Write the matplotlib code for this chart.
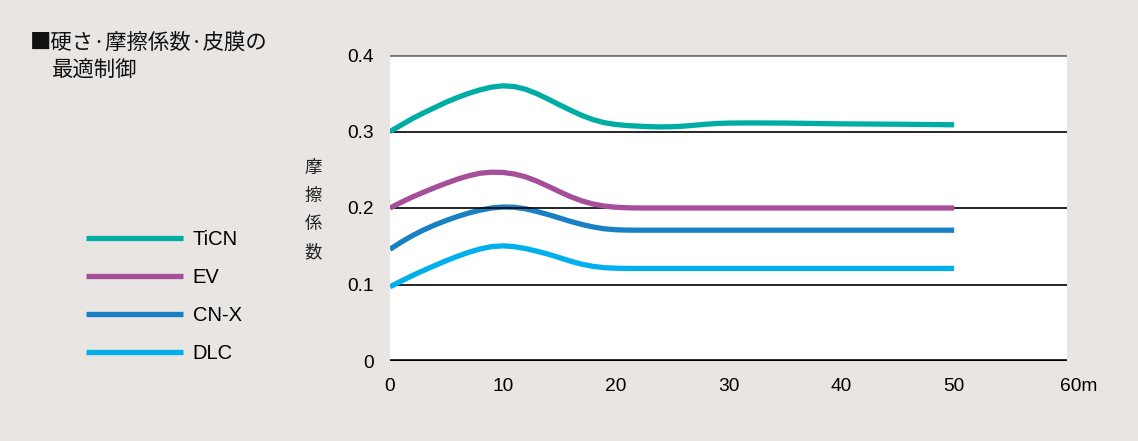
import matplotlib
matplotlib.use("Agg")
import matplotlib.pyplot as plt
from matplotlib.transforms import ScaledTranslation

# ---- data ----
x_m = [0, 1, 2, 3, 4, 5, 6, 7, 8, 9, 10, 11, 12, 13, 14, 15, 16, 17, 18, 19,
       20, 21, 22, 23, 24, 25, 26, 27, 28, 29, 30, 32, 35, 40, 45, 50]
ticn = [0.300, 0.3085, 0.317, 0.3245, 0.3315, 0.3385, 0.3445, 0.350, 0.3545,
        0.358, 0.3597, 0.3588, 0.3553, 0.3495, 0.3425, 0.335, 0.3278, 0.321,
        0.3155, 0.3115, 0.3092, 0.3078, 0.307, 0.3063, 0.306, 0.3062, 0.307,
        0.3082, 0.3095, 0.3105, 0.311, 0.3112, 0.311, 0.310, 0.3095, 0.3088]
ev = [0.200, 0.2075, 0.2145, 0.2208, 0.2268, 0.2325, 0.2378, 0.2422, 0.2455,
      0.2468, 0.2465, 0.2445, 0.2408, 0.2352, 0.2285, 0.2215, 0.2148, 0.2093,
      0.2052, 0.2025, 0.201, 0.2003, 0.200, 0.200, 0.200, 0.200, 0.200, 0.200,
      0.200, 0.200, 0.200, 0.200, 0.200, 0.200, 0.200, 0.200]
cnx = [0.146, 0.1555, 0.164, 0.1715, 0.178, 0.1838, 0.189, 0.1935, 0.1972,
       0.200, 0.2013, 0.201, 0.199, 0.1955, 0.1915, 0.187, 0.1825, 0.1785,
       0.1752, 0.1728, 0.1716, 0.1711, 0.171, 0.171, 0.171, 0.171, 0.171,
       0.171, 0.171, 0.171, 0.171, 0.171, 0.171, 0.171, 0.171, 0.171]
dlc = [0.097, 0.1045, 0.1118, 0.1185, 0.125, 0.1312, 0.137, 0.1422, 0.1465,
       0.1495, 0.1505, 0.1495, 0.147, 0.1436, 0.1397, 0.1352, 0.1305, 0.1265,
       0.1237, 0.122, 0.1213, 0.121, 0.121, 0.121, 0.121, 0.121, 0.121, 0.121,
       0.121, 0.121, 0.121, 0.121, 0.121, 0.121, 0.121, 0.121]
series_names = ["TiCN", "EV", "CN-X", "DLC"]
series_colors = ["#00ada5", "#a54f9b", "#1a80c4", "#00b0ec"]
series_z = [3, 3, 2, 3]
x_ticks = [0, 10, 20, 30, 40, 50, 60]
x_tick_labels = ["0", "10", "20", "30", "40", "50", "60m"]
y_ticks = [0, 0.1, 0.2, 0.3, 0.4]
y_tick_labels = ["0", "0.1", "0.2", "0.3", "0.4"]
title_line1 = "■硬さ·摩擦係数·皮膜の"
title_line2 = "最適制御"
y_label = "摩\n擦\n係\n数"

CJK = ["Noto Sans CJK JP", "DejaVu Sans"]
LAT = ["Liberation Sans", "DejaVu Sans"]
BG = "#e8e5e2"

fig = plt.figure(figsize=(11.38, 4.41), dpi=100, facecolor=BG)
ax = fig.add_axes([390/1138, 1-361/441, (1067-390)/1138, (361-55)/441])
ax.set_facecolor("white")
ax.set_xlim(0, 60)
ax.set_ylim(0, 0.4)

for s in ["left", "right", "top", "bottom"]:
    ax.spines[s].set_visible(False)

# grid lines
for yv in [0.1, 0.2, 0.3]:
    ax.axhline(yv, color="black", lw=1.2, zorder=2.5)
ax.axhline(0.4, color="#777777", lw=2.0, zorder=1)
ax.axhline(0.0, color="black", lw=2.6, zorder=4)

lines = []
for ys, name, col, z in zip([ticn, ev, cnx, dlc], series_names,
                            series_colors, series_z):
    ln, = ax.plot(x_m, ys, color=col, lw=3.8, solid_capstyle="butt",
                  solid_joinstyle="round", label=name, zorder=z)
    lines.append(ln)

ax.set_xticks(x_ticks)
ax.set_xticklabels(x_tick_labels, fontfamily=LAT, fontsize=13.8)
ax.set_yticks(y_ticks)
ax.set_yticklabels(y_tick_labels, fontfamily=LAT, fontsize=13.8)
ax.tick_params(axis="both", length=0)
ax.tick_params(axis="x", pad=12)
ax.tick_params(axis="y", pad=11.5)
last = ax.get_xticklabels()[-1]
last.set_horizontalalignment("left")
last.set_transform(last.get_transform() +
                   ScaledTranslation(-7/100, 0, fig.dpi_scale_trans))

fig.text(30/1138, 1-43/441, title_line1, fontfamily=CJK, fontsize=15.4,
         va="center", ha="left", color="#111111")
fig.text(52/1138, 1-71/441, title_line2, fontfamily=CJK, fontsize=15.4,
         va="center", ha="left", color="#111111")
fig.text(313/1138, 1-210/441, y_label, fontfamily=CJK, fontsize=12.5,
         va="center", ha="center", linespacing=1.72, color="#222222")

leg = fig.legend(handles=lines, loc="upper left",
                 bbox_to_anchor=(86/1138, 1-230/441), frameon=False,
                 prop={"family": LAT, "size": 14.5}, handlelength=4.8,
                 handletextpad=0.5, labelspacing=0.95, borderpad=0,
                 borderaxespad=0)
for h in leg.legend_handles:
    h.set_linewidth(3.8)

fig.savefig("out.png", dpi=100, facecolor=BG)
